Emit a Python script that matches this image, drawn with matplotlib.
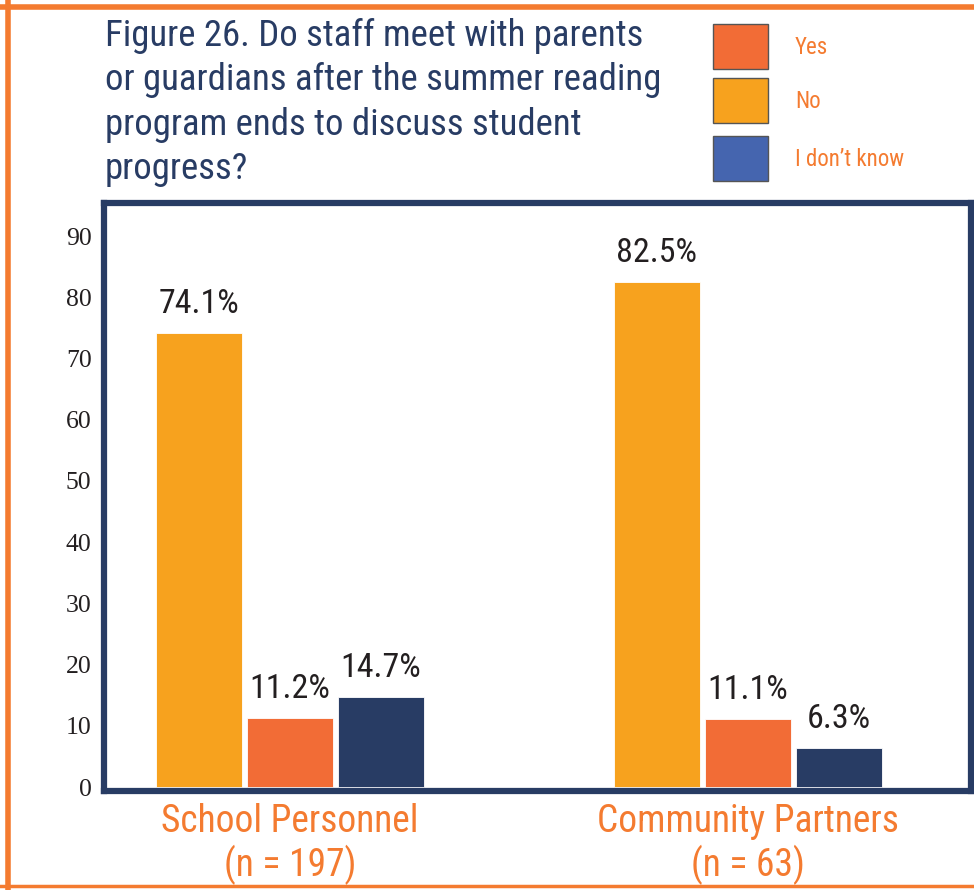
import numpy as np
import matplotlib
matplotlib.use('Agg')
import matplotlib.pyplot as plt
from matplotlib.patches import Rectangle
from matplotlib.lines import Line2D

COND = ['Roboto Condensed', 'Liberation Sans Narrow', 'Roboto', 'DejaVu Sans']
plt.rcParams['font.family'] = COND

groups = ['School Personnel\n(n = 197)', 'Community Partners\n(n = 63)']
series = ['No', 'Yes', "I don\u2019t know"]
no_vals = [74.1, 82.5]
yes_vals = [11.2, 11.1]
idk_vals = [14.7, 6.3]
legend_order = ['Yes', 'No', "I don\u2019t know"]

NAVY = '#283c64'
ORANGE = '#f47b30'
bar_colors = {'No': '#f7a21e', 'Yes': '#f26c36', "I don\u2019t know": NAVY}
legend_colors = {'Yes': '#f26c36', 'No': '#f7a21e', "I don\u2019t know": '#4565af'}

W, H = 974, 890
fig = plt.figure(figsize=(W / 100, H / 100), dpi=100)

# orange frame
fig.add_artist(Line2D([0, 1], [1 - 7 / H, 1 - 7 / H], color=ORANGE, lw=4, transform=fig.transFigure))
fig.add_artist(Line2D([8 / W, 8 / W], [0, 1], color=ORANGE, lw=4, transform=fig.transFigure))
fig.add_artist(Line2D([0, 1], [1 - 886 / H, 1 - 886 / H], color=ORANGE, lw=2.5, transform=fig.transFigure))

ax = fig.add_axes([104 / W, 1 - 791 / H, (971 - 104) / W, (791 - 203) / H])
x = np.arange(len(groups))
width = 0.188
step = 0.199
for i, (name, vals) in enumerate(zip(series, [no_vals, yes_vals, idk_vals])):
    bars = ax.bar(x + (i - 1) * step, vals, width, color=bar_colors[name],
                  edgecolor='white', linewidth=0.6, zorder=2)
    for b, v in zip(bars, vals):
        ax.text(b.get_x() + b.get_width() / 2, v + 2.2, f'{v:.1f}%',
                ha='center', va='bottom', fontsize=24.5, color='#231f20')

ax.set_xlim(-0.406, 1.487)
ax.set_ylim(-0.65, 95.4)
ax.set_yticks(np.arange(0, 91, 10))
ax.set_xticks([])
ax.tick_params(axis='y', length=0, pad=9, labelsize=18.5, labelcolor='#231f20')
for lbl in ax.get_yticklabels():
    lbl.set_fontfamily(['Liberation Serif', 'DejaVu Serif'])
for sp in ax.spines.values():
    sp.set_color(NAVY)
    sp.set_linewidth(4.5)

# group labels under the box
for xi, g in zip(x, groups):
    ax.text(xi, -2.6, g, ha='center', va='top', fontsize=27, color=ORANGE,
            linespacing=1.15, transform=ax.transData, clip_on=False)

# title
fig.text(105 / W, 1 - 18 / H,
         'Figure 26. Do staff meet with parents\nor guardians after the summer reading\n'
         'program ends to discuss student\nprogress?',
         ha='left', va='top', fontsize=26.5, color=NAVY, linespacing=1.3)

# legend
box_y = [24, 78, 136]
for name, yt in zip(legend_order, box_y):
    fig.add_artist(Rectangle((713 / W, 1 - (yt + 45) / H), 55 / W, 45 / H,
                             facecolor=legend_colors[name], edgecolor='#555555',
                             linewidth=1, transform=fig.transFigure))
    fig.text(795 / W, 1 - (yt + 23) / H, name, ha='left', va='center',
             fontsize=16.5, color=ORANGE)

fig.savefig('out.png', dpi=100)
